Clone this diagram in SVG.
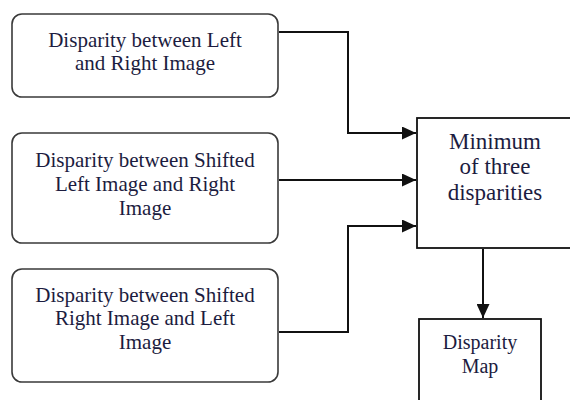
<svg xmlns="http://www.w3.org/2000/svg" width="570" height="400" viewBox="0 0 570 400">
<defs>
<style>
.rb{fill:#fff;stroke:#3a3a3a;stroke-width:1.6}
.sb{fill:#fff;stroke:#111;stroke-width:1.8}
.t{font-family:"Liberation Serif","Times New Roman",serif;font-size:21px;fill:#1c1c40;text-anchor:middle}
.c{fill:none;stroke:#111;stroke-width:2}
</style>
<marker id="ah" markerWidth="14" markerHeight="13" viewBox="0 0 14 13" refX="14" refY="6.5" orient="auto" markerUnits="userSpaceOnUse">
<path d="M0,0 L14,6.5 L0,13 Z" fill="#111"/>
</marker>
</defs>
<rect width="570" height="400" fill="#fff"/>
<g id="connectors">
<path class="c" d="M279,32 H348 V133 H416" marker-end="url(#ah)"/>
<path class="c" d="M279,180 H416" marker-end="url(#ah)"/>
<path class="c" d="M279,332 H348 V226 H416" marker-end="url(#ah)"/>
<path class="c" d="M483,249 V318" marker-end="url(#ah)"/>
</g>
<g id="n1">
<rect class="rb" x="12" y="14" width="266" height="83" rx="10"/>
<text class="t" x="145" y="47">Disparity between Left</text>
<text class="t" x="145" y="70">and Right Image</text>
</g>
<g id="n2">
<rect class="rb" x="12" y="133" width="266" height="110" rx="10"/>
<text class="t" x="145" y="167">Disparity between Shifted</text>
<text class="t" x="145" y="191">Left Image and Right</text>
<text class="t" x="145" y="215">Image</text>
</g>
<g id="n3">
<rect class="rb" x="12" y="269" width="266" height="113" rx="10"/>
<text class="t" x="145" y="302">Disparity between Shifted</text>
<text class="t" x="145" y="325">Right Image and Left</text>
<text class="t" x="145" y="349">Image</text>
</g>
<g id="n4">
<rect class="sb" x="417" y="118" width="160" height="130"/>
<text class="t" x="495" y="149" style="font-size:23px">Minimum</text>
<text class="t" x="495" y="174" style="font-size:23px">of three</text>
<text class="t" x="495" y="200" style="font-size:23px">disparities</text>
</g>
<g id="n5">
<rect class="sb" x="419" y="319" width="122" height="90"/>
<text class="t" x="480" y="349" style="font-size:20px">Disparity</text>
<text class="t" x="480" y="373" style="font-size:20px">Map</text>
</g>
</svg>
